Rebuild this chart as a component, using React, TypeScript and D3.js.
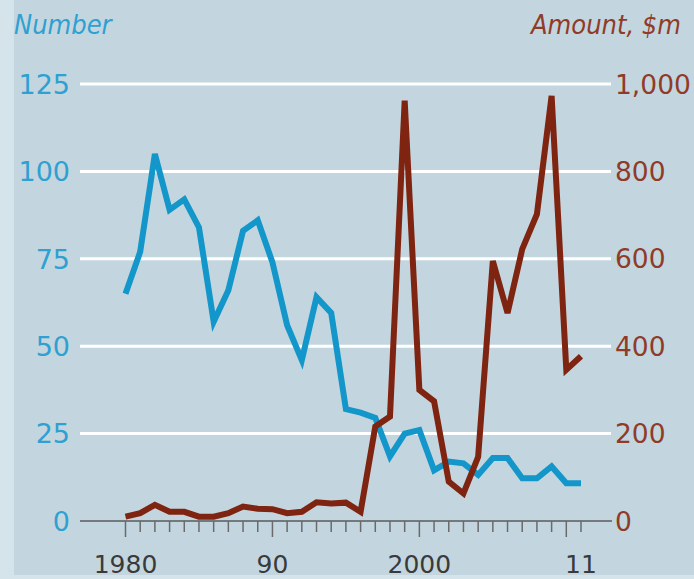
import React from "react";
import * as d3 from "d3";

const years = d3.range(1980, 2012);
const numberValues = [65, 77, 105, 89, 92, 84, 57, 66, 83, 86, 74, 56, 46, 64, 59.5, 32, 31, 29.5, 18.5, 25, 26, 14.5, 17, 16.5, 13.2, 18, 18, 12.2, 12.2, 15.6, 10.8, 10.8];
const amountValues = [10, 18, 37, 21, 21, 10, 10, 18, 33, 28, 27, 18, 21, 43, 40, 42, 21, 216, 239, 962, 300, 274, 90, 63, 147, 595, 476, 622, 702, 973, 346, 377];
const leftTicks = [0, 25, 50, 75, 100, 125];
const rightTicks = [0, 200, 400, 600, 800, 1000];
const xLabels: [number, string][] = [[1980, "1980"], [1990, "90"], [2000, "2000"], [2011, "11"]];
const majorYears = [1980, 1990, 2000, 2010];

const W = 694, H = 579;
const BG = "#c3d6df";
const BLUE = "#1396c9";
const BLUE_TXT = "#2ea0d2";
const RED = "#7e2410";
const RED_TXT = "#8f3b28";

export default function App() {
  const x = d3.scaleLinear().domain([1980, 2011]).range([125.5, 581]);
  const yL = d3.scaleLinear().domain([0, 125]).range([521, 84]);
  const yR = d3.scaleLinear().domain([0, 1000]).range([521, 84]);
  const fmt = d3.format(",");
  const lineL = d3.line<number>().x((_, i) => x(years[i])).y((d) => yL(d));
  const lineR = d3.line<number>().x((_, i) => x(years[i])).y((d) => yR(d));
  const font = "'DejaVu Sans', sans-serif";

  return (
    <svg width={W} height={H} style={{ position: "absolute", left: 0, top: 0 }} fontFamily={font}>
      <rect x={0} y={0} width={W} height={H} fill={BG} />
      <rect x={0} y={0} width={14} height={H} fill="#d5e3ea" />
      <rect x={0} y={575} width={W} height={4} fill="#d5e3ea" />
      <text x={14} y={34} fill={BLUE_TXT} fontSize={27} fontStyle="italic" fontFamily="'DejaVu Sans Condensed', sans-serif">Number</text>
      <text x={681} y={34} fill={RED_TXT} fontSize={27} fontStyle="italic" textAnchor="end" fontFamily="'DejaVu Sans Condensed', sans-serif">Amount, $m</text>
      {leftTicks.filter((t) => t > 0).map((t) => (
        <line key={"g" + t} x1={80} x2={611} y1={yL(t)} y2={yL(t)} stroke="#ffffff" strokeWidth={3} />
      ))}
      {leftTicks.map((t) => (
        <text key={"l" + t} x={70} y={yL(t)} dy="0.36em" textAnchor="end" fill={BLUE_TXT} fontSize={27}>{t}</text>
      ))}
      {rightTicks.map((t) => (
        <text key={"r" + t} x={615} y={yR(t)} dy="0.36em" textAnchor="start" fill={RED_TXT} fontSize={26.5}>{fmt(t)}</text>
      ))}
      <line x1={80} x2={612} y1={521} y2={521} stroke="#5a5a5a" strokeWidth={1.5} />
      {years.map((yr) => (
        <line key={"t" + yr} x1={x(yr)} x2={x(yr)} y1={521} y2={majorYears.includes(yr) ? 537 : 532} stroke="#6a6a6a" strokeWidth={1.5} />
      ))}
      {xLabels.map(([yr, s]) => (
        <text key={"x" + yr} x={x(yr)} y={573} textAnchor="middle" fill="#3a3a3a" fontSize={25}>{s}</text>
      ))}
      <path d={lineL(numberValues) || ""} fill="none" stroke={BLUE} strokeWidth={6} strokeLinejoin="miter" strokeMiterlimit={4} />
      <path d={lineR(amountValues) || ""} fill="none" stroke={RED} strokeWidth={6} strokeLinejoin="miter" strokeMiterlimit={4} />
    </svg>
  );
}
